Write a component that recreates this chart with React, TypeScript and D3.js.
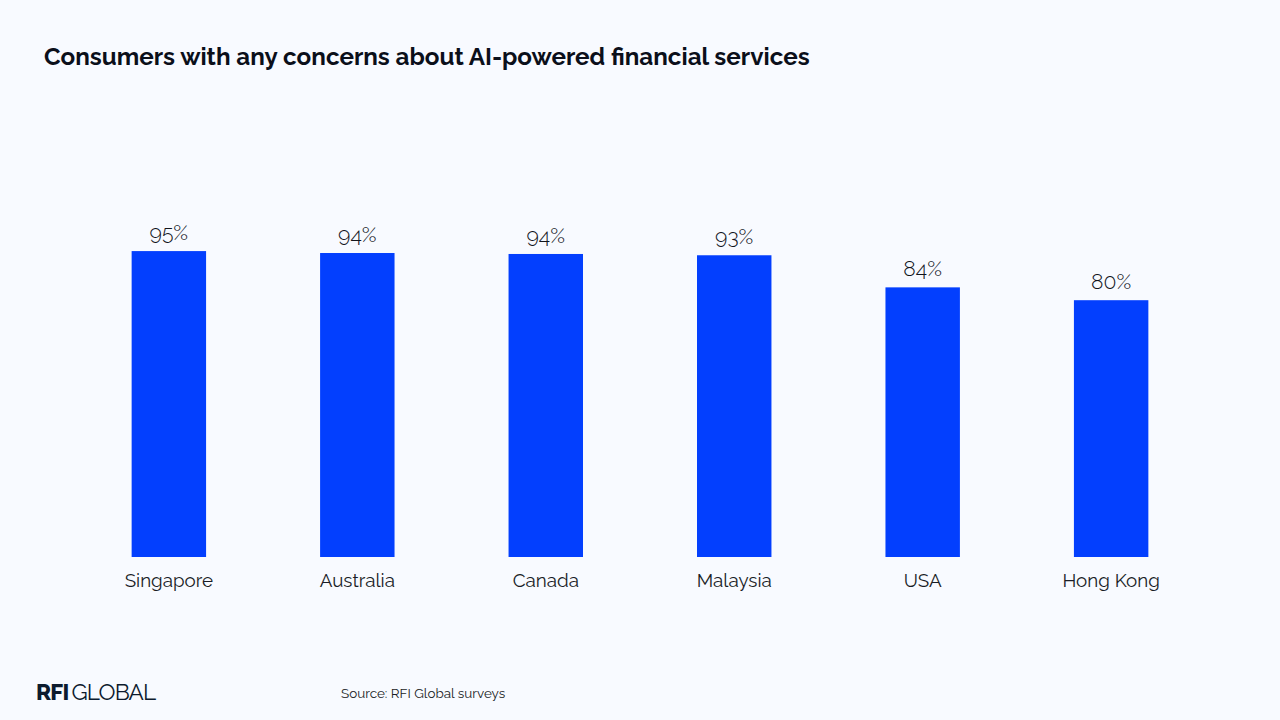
import React from "react";
import * as d3 from "d3";

const categories = ["Singapore", "Australia", "Canada", "Malaysia", "USA", "Hong Kong"];
const values = [95.3, 94.7, 94.4, 94.0, 84.0, 80.0];
const labels = ["95%", "94%", "94%", "93%", "84%", "80%"];
const font = "Raleway, Lato, 'Open Sans', sans-serif";

export default function App() {
  const y = d3.scaleLinear().domain([0, 100]).range([557, 236]);
  const x = d3.scaleBand().domain(categories).range([75.1, 1204.9]).paddingInner(0.605).paddingOuter(0.3);
  const cx = (c: string) => x(c)! + x.bandwidth() / 2;
  return (
    <svg width={1280} height={720} style={{ position: "fixed", left: 0, top: 0, background: "#f8faff" }}>
      <text x={44} y={65} fontFamily={font} fontWeight={700} fontSize={24.2} fill="#0b0f1a">
        Consumers with any concerns about AI-powered financial services
      </text>
      {categories.map((c, i) => (
        <g key={c}>
          <rect x={x(c)} y={y(values[i])} width={x.bandwidth()} height={557 - y(values[i])} fill="#033ffe" />
          <text x={cx(c)} y={y(values[i]) - 11} textAnchor="middle" fontFamily={font} fontWeight={300} fontSize={21.2} fill="#11141c">{labels[i]}</text>
          <text x={cx(c)} y={587} textAnchor="middle" fontFamily={font} fontWeight={400} fontSize={18.8} fill="#1a1d26">{c}</text>
        </g>
      ))}
      <text x={36} y={699.5} fontFamily={font} fontSize={22.6} letterSpacing={-0.8} fill="#0d1b2e">
        <tspan fontWeight={800}>RFI</tspan><tspan dx={3} fontWeight={400}>GLOBAL</tspan>
      </text>
      <text x={341} y={698} fontFamily={font} fontSize={13.45} fill="#1a1d26">Source: RFI Global surveys</text>
    </svg>
  );
}
